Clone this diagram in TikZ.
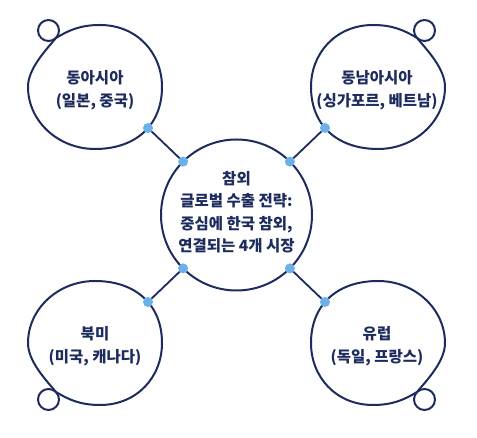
\documentclass[tikz,border=0pt]{standalone}
\usepackage{fontspec}
\newfontfamily\kr{Noto Sans CJK KR}
\definecolor{navy}{HTML}{1D2B5E}
\definecolor{dotblue}{HTML}{6CB0EA}
\tikzset{
  outline/.style={draw=navy, line width=2pt, line cap=round, line join=round},
  link/.style={draw=navy, line width=1.8pt},
  dotc/.style={circle, fill=dotblue, inner sep=0pt, minimum size=10pt},
  lbl/.style={align=center, text=navy, font=\kr\bfseries\fontsize{15.5}{22.5}\selectfont},
  blob/.pic={
    \draw[outline] (-39,49) .. controls (-26,57) and (-14,62) .. (5,62)
      .. controls (42,62) and (67,34) .. (67,0)
      .. controls (67,-38) and (41,-62) .. (0,-62)
      .. controls (-37,-62) and (-67,-34) .. (-67,0)
      .. controls (-67,18) and (-50,36) .. (-39,49);
    \draw[outline] (-46.5,56.5) circle[radius=10.5];
  }
}
\begin{document}
\begin{tikzpicture}[x=1pt,y=1pt]
\useasboundingbox (0,0) rectangle (477,438);
% blobs
\pic at (95,351) {blob};
\pic[xscale=-1] at (378,351) {blob};
\pic[yscale=-1] at (95,95) {blob};
\pic[xscale=-1,yscale=-1] at (378,95) {blob};
% hub
\node[circle, draw=navy, line width=2pt, minimum size=151pt, inner sep=0pt, outer sep=0pt] (hub) at (236.5,223) {};
\node[lbl] (hubtext) at (236.5,226) {참외\\글로벌 수출 전략:\\중심에 한국 참외,\\연결되는 4개 시장};
% labels
\node[lbl] (tltext) at (95,348) {동아시아\\(일본, 중국)};
\node[lbl] (trtext) at (377,348) {동남아시아\\(싱가포르, 베트남)};
\node[lbl] (bltext) at (95,92) {북미\\(미국, 캐나다)};
\node[lbl] (brtext) at (377,92) {유럽\\(독일, 프랑스)};
% blob dots
\coordinate (tl) at (148,310);
\coordinate (tr) at (325,310);
\coordinate (bl) at (148,136);
\coordinate (br) at (325,136);
% connectors
\draw[link] (tl) -- (hub.135);
\draw[link] (tr) -- (hub.45);
\draw[link] (bl) -- (hub.225);
\draw[link] (br) -- (hub.315);
% dots
\node[dotc] (tld) at (tl) {};
\node[dotc] (trd) at (tr) {};
\node[dotc] (bld) at (bl) {};
\node[dotc] (brd) at (br) {};
\node[dotc] (h1) at (hub.135) {};
\node[dotc] (h2) at (hub.45) {};
\node[dotc] (h3) at (hub.225) {};
\node[dotc] (h4) at (hub.315) {};
\end{tikzpicture}
\end{document}
